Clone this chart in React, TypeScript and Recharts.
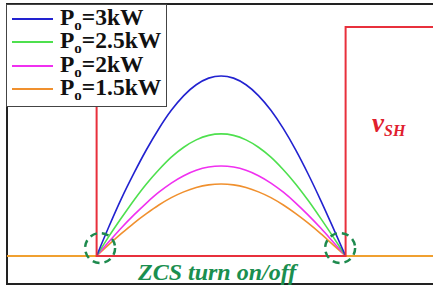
import { LineChart, Line, XAxis, YAxis, ReferenceDot } from 'recharts';

// time in switching-period units: 0 = turn on, 100 = turn off
const arcTime = [0, 5, 10, 15, 20, 25, 30, 35, 40, 45, 50, 55, 60, 65, 70, 75, 80, 85, 90, 95, 100];
const iP3 = [0, 1.65, 3.2, 4.6, 5.9, 7.07, 8.09, 8.91, 9.51, 9.88, 10, 9.88, 9.51, 8.91, 8.09, 7.07, 5.88, 4.54, 3.09, 1.56, 0];
const iP25 = [0, 1.1, 2.12, 3.1, 4.0, 4.79, 5.49, 6.04, 6.45, 6.7, 6.78, 6.7, 6.45, 6.04, 5.49, 4.79, 3.99, 3.08, 2.09, 1.06, 0];
const iP2 = [0, 0.8, 1.57, 2.28, 2.94, 3.54, 4.05, 4.46, 4.76, 4.94, 5.0, 4.94, 4.76, 4.46, 4.05, 3.54, 2.94, 2.27, 1.55, 0.78, 0];
const iP15 = [0, 0.64, 1.25, 1.83, 2.35, 2.83, 3.24, 3.56, 3.8, 3.95, 4.0, 3.95, 3.8, 3.56, 3.24, 2.83, 2.35, 1.82, 1.24, 0.62, 0];

const baseTime = [-36, 135.1];
const baseLevel = [0, 0];

const vshTime = [-36, 0, 0, 100, 100, 135.1];
const vshLevel = [12.72, 12.72, 0, 0, 12.72, 12.72];

// ZCS markers (turn on / turn off)
const zcsTime = [1.4, 97.8];
const zcsLevel = 0.44;

const series = [
  { key: 'p3', label: '3kW', values: iP3, color: '#2222d0' },
  { key: 'p25', label: '2.5kW', values: iP25, color: '#4ee04e' },
  { key: 'p2', label: '2kW', values: iP2, color: '#f030f0' },
  { key: 'p15', label: '1.5kW', values: iP15, color: '#f0902e' },
];

const arcData = arcTime.map((t, i) => {
  const row: Record<string, number> = { t };
  series.forEach((s) => (row[s.key] = s.values[i]));
  return row;
});
const baseData = baseTime.map((t, i) => ({ t, v: baseLevel[i] }));
const vshData = vshTime.map((t, i) => ({ t, v: vshLevel[i] }));

const serif = '"Liberation Serif", "Times New Roman", serif';

function LegendBox() {
  return (
    <div
      style={{
        position: 'absolute',
        left: 6,
        top: 4,
        width: 161,
        height: 103,
        border: '1.5px solid #444',
        background: '#fff',
        boxSizing: 'border-box',
        paddingTop: 2,
      }}
    >
      {series.map((s) => (
        <div key={s.key} style={{ display: 'flex', alignItems: 'center', height: 23.5 }}>
          <div style={{ width: 41, height: 2, background: s.color, marginLeft: 5, marginRight: 7, flex: 'none' }} />
          <span style={{ fontFamily: serif, fontWeight: 'bold', fontSize: 23.5, color: '#111', lineHeight: '23px', whiteSpace: 'nowrap' }}>
            P<span style={{ fontSize: 15, position: 'relative', top: 5 }}>o</span>={s.label}
          </span>
        </div>
      ))}
    </div>
  );
}

export default function App() {
  return (
    <div style={{ position: 'absolute', left: 0, top: 0, width: 433, height: 288, background: '#fff', overflow: 'hidden' }}>
      <div
        style={{
          position: 'absolute',
          left: 6,
          top: 3,
          width: 440,
          height: 278,
          borderTop: '2px solid #222',
          borderLeft: '2px solid #222',
          borderBottom: '2px solid #222',
        }}
      />
      <div style={{ position: 'absolute', left: 0, top: 0 }}>
        <LineChart width={433} height={288} margin={{ top: 0, right: 0, bottom: 0, left: 0 }}>
          <XAxis dataKey="t" type="number" domain={[-38.8, 135.1]} hide allowDataOverflow />
          <YAxis type="number" domain={[-1.78, 14.22]} hide allowDataOverflow />
          <Line data={baseData} dataKey="v" type="linear" stroke="#f0a030" strokeWidth={2} dot={false} activeDot={false} isAnimationActive={false} />
          {[...series].reverse().map((s) => (
            <Line
              key={s.key}
              data={arcData}
              dataKey={s.key}
              type="monotone"
              stroke={s.color}
              strokeWidth={1.6}
              dot={false}
              activeDot={false}
              isAnimationActive={false}
            />
          ))}
          <Line data={vshData} dataKey="v" type="linear" stroke="#e8303c" strokeWidth={2} dot={false} activeDot={false} isAnimationActive={false} />
          {zcsTime.map((t) => (
            <ReferenceDot
              key={t}
              x={t}
              y={zcsLevel}
              r={15}
              fill="none"
              stroke="#1e8a4e"
              strokeWidth={2.5}
              strokeDasharray="7 5"
            />
          ))}
        </LineChart>
      </div>
      <LegendBox />
      <div style={{ position: 'absolute', left: 372, top: 108, color: '#e0202e', fontFamily: serif, fontStyle: 'italic', fontWeight: 'bold', whiteSpace: 'nowrap' }}>
        <span style={{ fontSize: 27 }}>v</span>
        <span style={{ fontSize: 16, position: 'relative', top: 4 }}>SH</span>
      </div>
      <div style={{ position: 'absolute', left: 138, top: 260, color: '#1a8f4f', fontFamily: serif, fontStyle: 'italic', fontWeight: 'bold', fontSize: 24, lineHeight: '24px', whiteSpace: 'nowrap' }}>
        ZCS turn on/off
      </div>
    </div>
  );
}
